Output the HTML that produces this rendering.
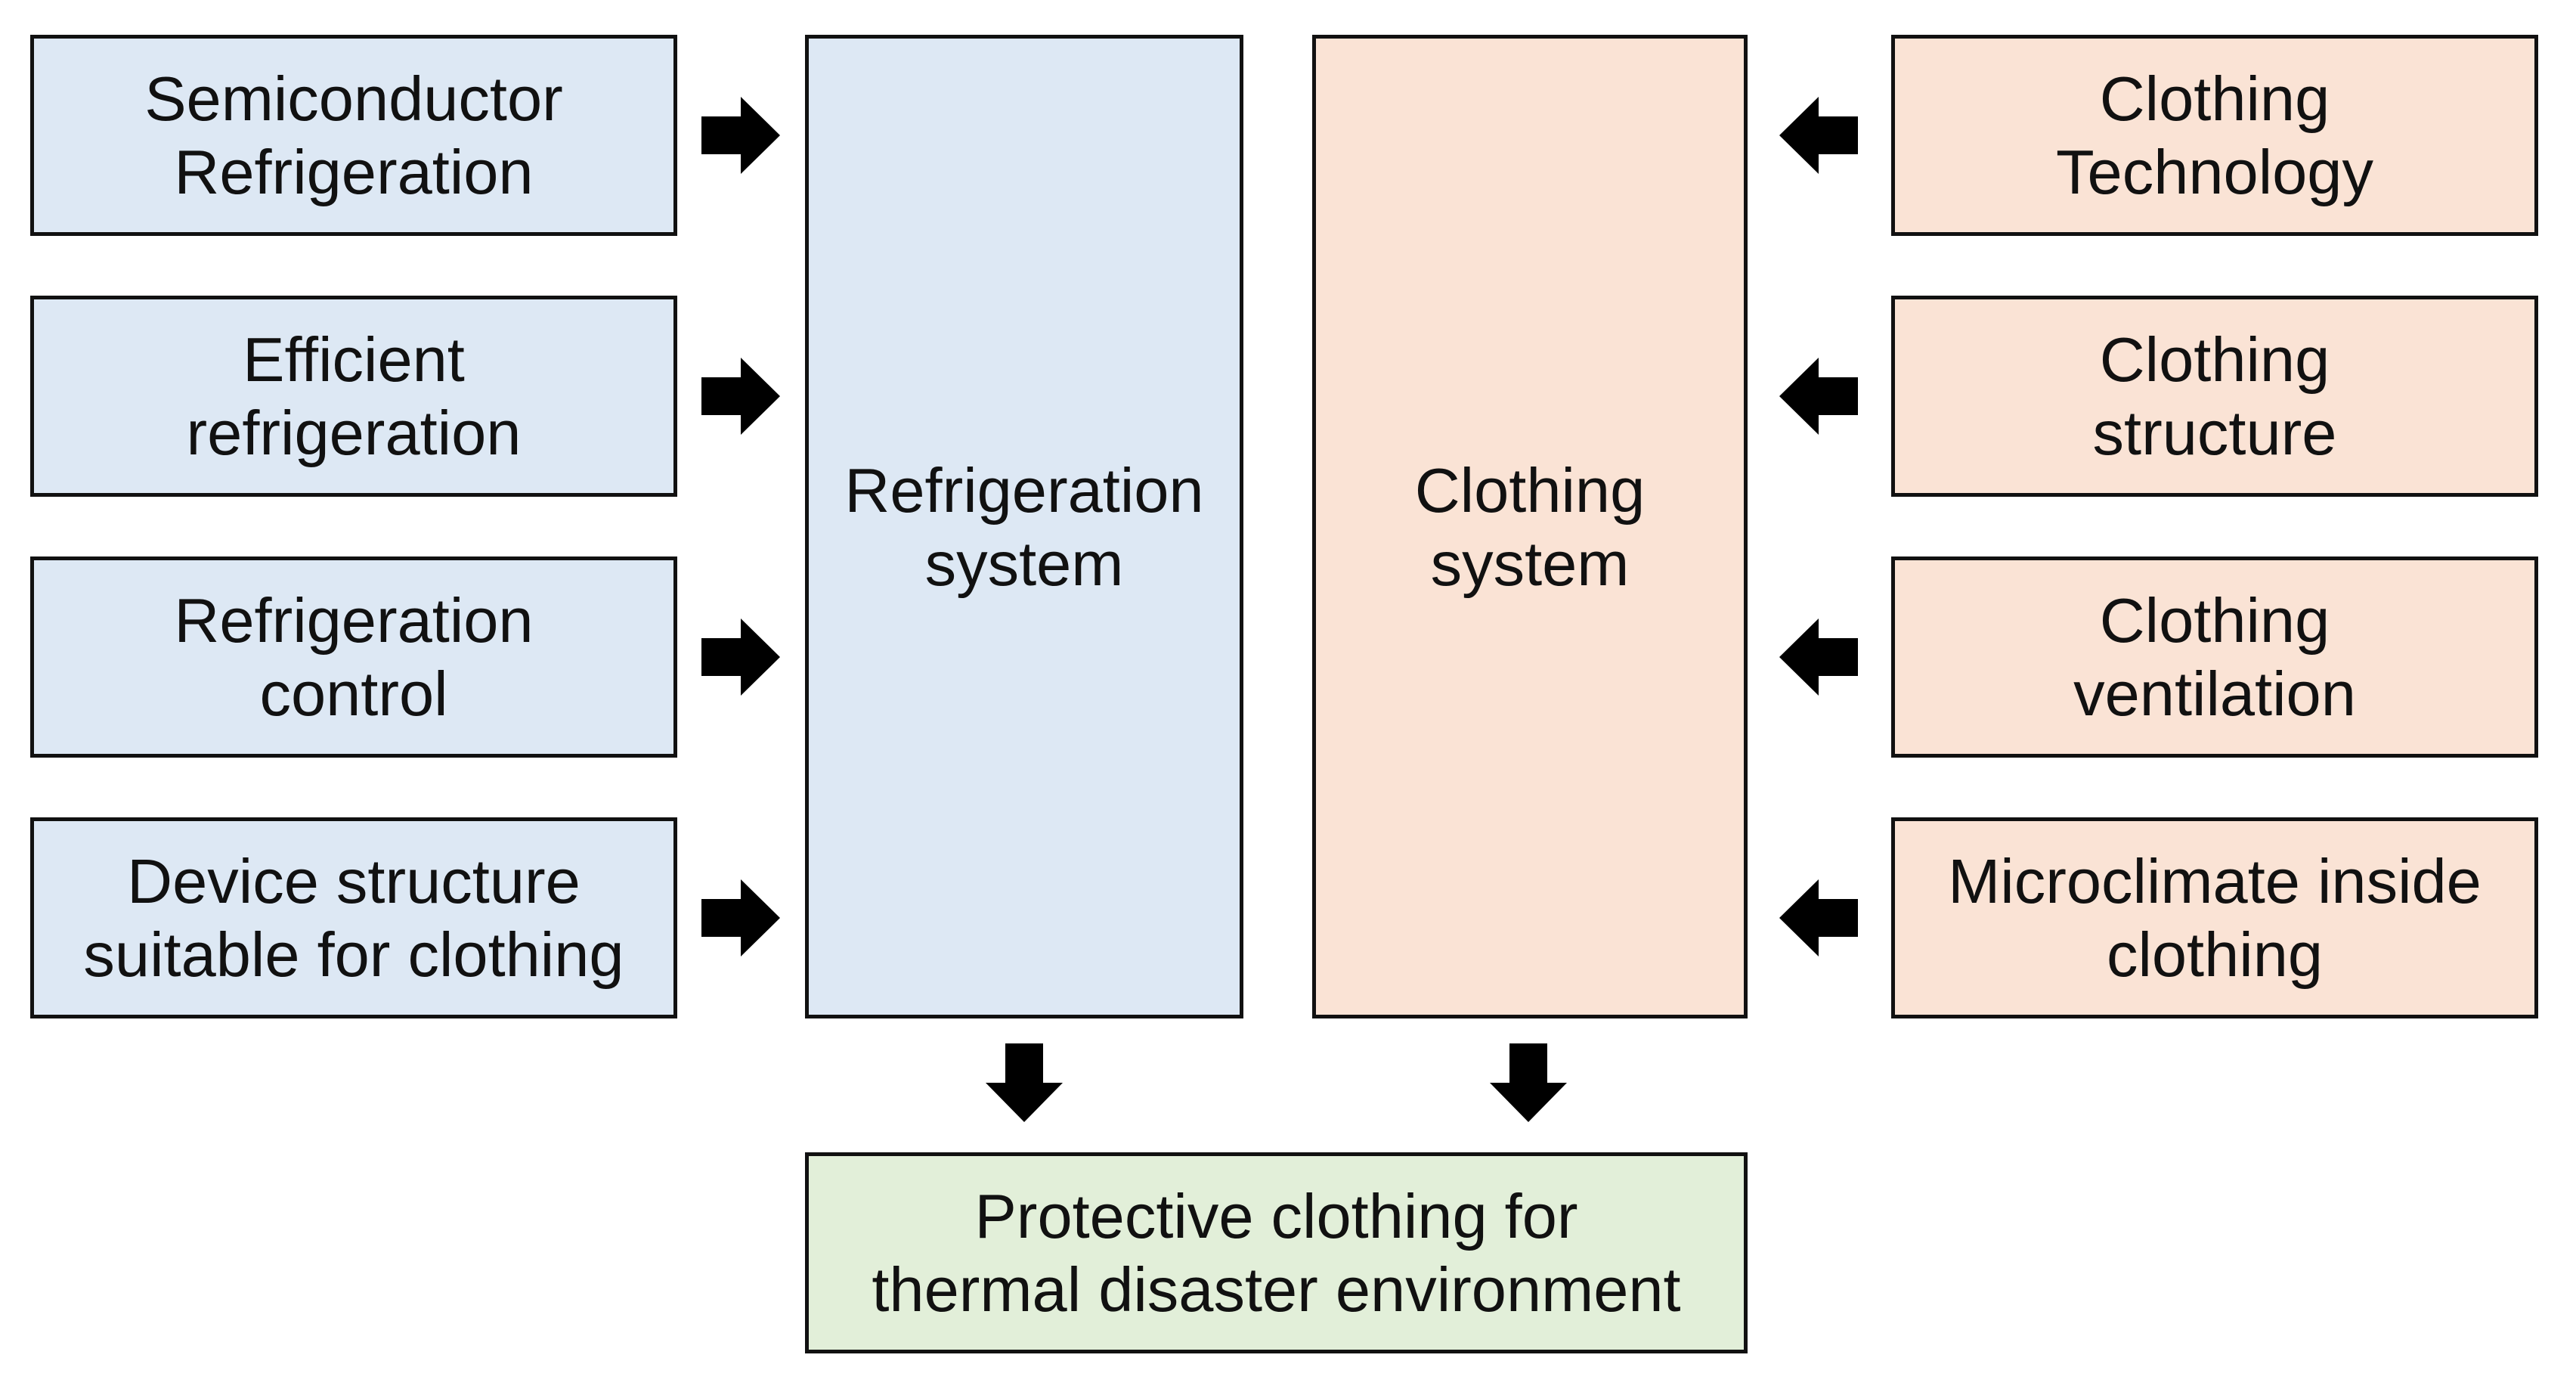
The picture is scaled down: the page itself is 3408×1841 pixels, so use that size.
<!DOCTYPE html>
<html><head><meta charset="utf-8"><style>
html,body{margin:0;padding:0;background:#fff;}
body{width:3408px;height:1841px;position:relative;overflow:hidden;font-family:"Liberation Sans","DejaVu Sans",sans-serif;}
.b{position:absolute;box-sizing:border-box;border:5px solid #111;display:flex;align-items:center;justify-content:center;text-align:center;font-size:83px;line-height:97px;color:#111;}
.bl{background:#dde8f4}.pe{background:#fae3d5}.gr{background:#e2efd9}
svg{position:absolute;left:0;top:0}
</style></head><body>
<div class="b bl" style="left:40px;top:46px;width:856px;height:266px">Semiconductor<br>Refrigeration</div>
<div class="b bl" style="left:40px;top:391px;width:856px;height:266px">Efficient<br>refrigeration</div>
<div class="b bl" style="left:40px;top:736px;width:856px;height:266px">Refrigeration<br>control</div>
<div class="b bl" style="left:40px;top:1081px;width:856px;height:266px">Device structure<br>suitable for clothing</div>
<div class="b bl" style="left:1065px;top:46px;width:580px;height:1301px">Refrigeration<br>system</div>
<div class="b pe" style="left:1736px;top:46px;width:576px;height:1301px">Clothing<br>system</div>
<div class="b pe" style="left:2502px;top:46px;width:856px;height:266px">Clothing<br>Technology</div>
<div class="b pe" style="left:2502px;top:391px;width:856px;height:266px">Clothing<br>structure</div>
<div class="b pe" style="left:2502px;top:736px;width:856px;height:266px">Clothing<br>ventilation</div>
<div class="b pe" style="left:2502px;top:1081px;width:856px;height:266px">Microclimate inside<br>clothing</div>
<div class="b gr" style="left:1065px;top:1524px;width:1247px;height:266px">Protective clothing for<br>thermal disaster environment</div>
<svg width="3408" height="1841">
<defs>
<path id="ar" d="M0,-25 L52,-25 L52,-51 L104,0 L52,51 L52,25 L0,25 Z" fill="#000"/>
</defs>
<use href="#ar" transform="translate(928,179)"/>
<use href="#ar" transform="translate(928,524)"/>
<use href="#ar" transform="translate(928,869)"/>
<use href="#ar" transform="translate(928,1214)"/>
<use href="#ar" transform="translate(2458,179) scale(-1,1)"/>
<use href="#ar" transform="translate(2458,524) scale(-1,1)"/>
<use href="#ar" transform="translate(2458,869) scale(-1,1)"/>
<use href="#ar" transform="translate(2458,1214) scale(-1,1)"/>
<use href="#ar" transform="translate(1355,1380) rotate(90)"/>
<use href="#ar" transform="translate(2022,1380) rotate(90)"/>
</svg>
</body></html>
